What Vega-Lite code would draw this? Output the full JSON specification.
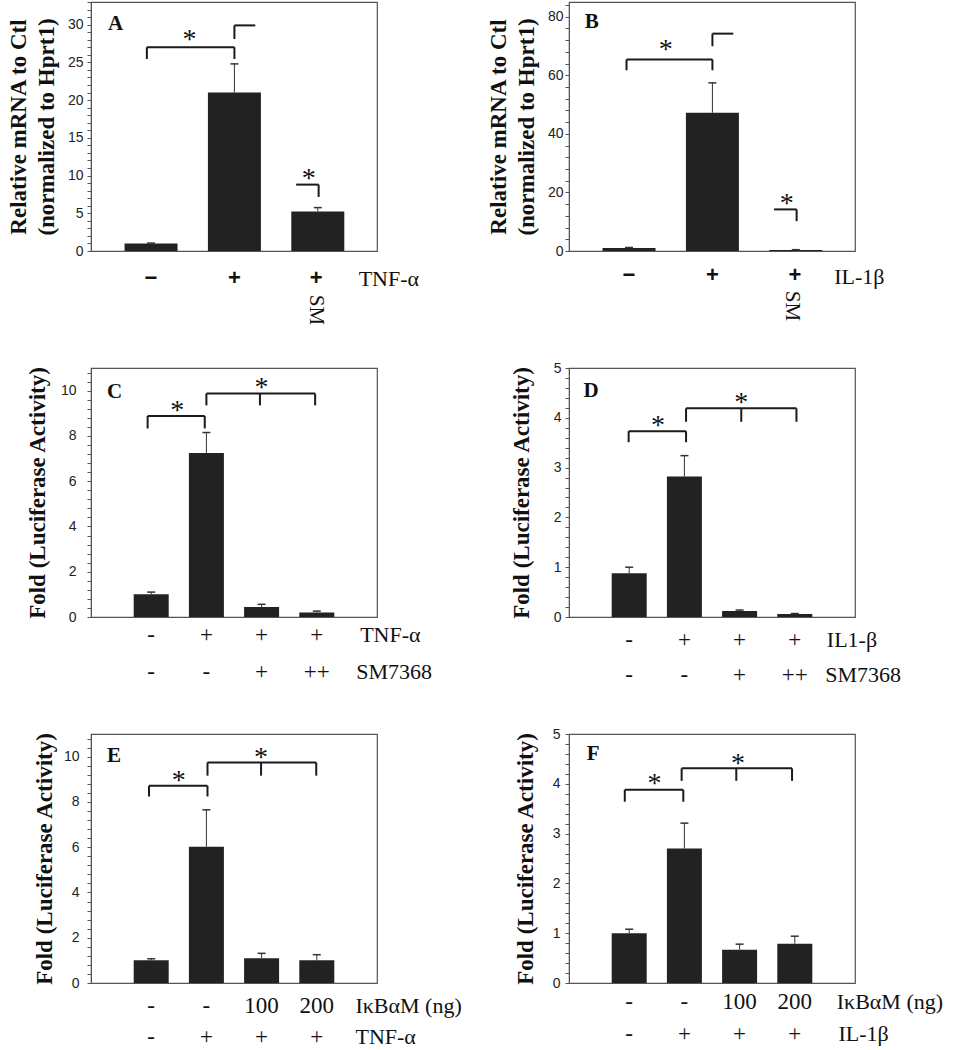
{
"$schema":"https://vega.github.io/schema/vega-lite/v6.json",
"padding":{"left":6,"top":0,"right":0,"bottom":0},
"bounds":"flush",
"columns":2,
"spacing":{"row":117,"column":192},
"config":{
 "view":{"stroke":"#555","strokeWidth":1.2},
 "axis":{"labelFont":"Liberation Sans","labelFontSize":14,"labelColor":"#222","domainColor":"#555","tickColor":"#555","tickSize":4,"titleFont":"Liberation Serif","titleFontWeight":"bold","titleFontSize":23,"titleColor":"#111","titleLineHeight":28,"grid":false,"labelOverlap":false,"labelFlush":false},
 "text":{"color":"#111"}
},
"datasets":{
 "A_bars":[{"x":1,"y":1.0,"hi":1.05},{"x":2,"y":21.0,"hi":24.8},{"x":3,"y":5.25,"hi":5.75}],
 "A_brk":[{"x":0.95,"x2":2.0,"y":27.0,"y2":27.0},{"x":0.95,"x2":0.95,"y":27.0,"y2":25.45},{"x":2.0,"x2":2.0,"y":27.0,"y2":25.45},{"x":2.0,"x2":2.0,"y":28.1,"y2":29.9},{"x":2.0,"x2":2.25,"y":29.9,"y2":29.9},{"x":2.74,"x2":3.01,"y":8.8,"y2":8.8},{"x":3.01,"x2":3.01,"y":8.8,"y2":7.17}],
 "A_star":[{"x":1.46,"y":28.65,"t":"*"},{"x":2.89,"y":10.27,"t":"*"}],
 "A_lab":[{"x":1,"y":0,"t":"−"},{"x":2,"y":0,"t":"+"},{"x":2.98,"y":0,"t":"+"}],
 "A_name":[{"x":3.49,"y":0,"t":"TNF-α"}],
 "A_sm":[{"x":2.98,"y":0,"t":"SM"}],
 "A_tag":[{"x":0.485,"y":30.1,"t":"A"}],
 "B_bars":[{"x":1,"y":1.0,"hi":1.2},{"x":2,"y":47.2,"hi":57.4},{"x":3,"y":0.3,"hi":0.45}],
 "B_brk":[{"x":0.97,"x2":2.0,"y":65.4,"y2":65.4},{"x":0.97,"x2":0.97,"y":65.4,"y2":61.7},{"x":2.0,"x2":2.0,"y":65.4,"y2":61.7},{"x":2.0,"x2":2.0,"y":69.9,"y2":74.2},{"x":2.0,"x2":2.25,"y":74.2,"y2":74.2},{"x":2.74,"x2":3.01,"y":14.2,"y2":14.2},{"x":3.01,"x2":3.01,"y":14.2,"y2":10.2}],
 "B_star":[{"x":1.44,"y":70.2,"t":"*"},{"x":2.89,"y":17.9,"t":"*"}],
 "B_lab":[{"x":1,"y":0,"t":"−"},{"x":2,"y":0,"t":"+"},{"x":2.99,"y":0,"t":"+"}],
 "B_name":[{"x":3.46,"y":0,"t":"IL-1β"}],
 "B_sm":[{"x":2.96,"y":0,"t":"SM"}],
 "B_tag":[{"x":0.47,"y":78.2,"t":"B"}],
 "C_bars":[{"x":1,"y":1.0,"hi":1.1},{"x":2,"y":7.24,"hi":8.15},{"x":3,"y":0.44,"hi":0.56},{"x":4,"y":0.2,"hi":0.26}],
 "C_brk":[{"x":0.935,"x2":1.97,"y":8.88,"y2":8.88},{"x":0.935,"x2":0.935,"y":8.88,"y2":8.33},{"x":1.97,"x2":1.97,"y":8.88,"y2":8.33},{"x":2.0,"x2":3.97,"y":9.87,"y2":9.87},{"x":2.0,"x2":2.0,"y":9.87,"y2":9.35},{"x":2.97,"x2":2.97,"y":9.87,"y2":9.35},{"x":3.97,"x2":3.97,"y":9.87,"y2":9.35}],
 "C_star":[{"x":1.47,"y":9.33,"t":"*"},{"x":3.0,"y":10.35,"t":"*"}],
 "C_lab":[{"x":1,"y":0,"row":1,"t":"-"},{"x":2,"y":0,"row":1,"t":"+"},{"x":3,"y":0,"row":1,"t":"+"},{"x":4,"y":0,"row":1,"t":"+"},{"x":1,"y":0,"row":2,"t":"-"},{"x":2,"y":0,"row":2,"t":"-"},{"x":3,"y":0,"row":2,"t":"+"},{"x":4,"y":0,"row":2,"t":"++"}],
 "C_name":[{"x":4.785,"y":0,"row":1,"t":"TNF-α"},{"x":4.715,"y":0,"row":2,"t":"SM7368"}],
 "C_tag":[{"x":0.2,"y":9.94,"t":"C"}],
 "D_bars":[{"x":1,"y":0.88,"hi":1.0},{"x":2,"y":2.82,"hi":3.24},{"x":3,"y":0.12,"hi":0.14},{"x":4,"y":0.06,"hi":0.07}],
 "D_brk":[{"x":0.99,"x2":2.03,"y":3.73,"y2":3.73},{"x":0.99,"x2":0.99,"y":3.73,"y2":3.51},{"x":2.03,"x2":2.03,"y":3.73,"y2":3.51},{"x":2.03,"x2":4.03,"y":4.19,"y2":4.19},{"x":2.03,"x2":2.03,"y":4.19,"y2":3.92},{"x":3.03,"x2":3.03,"y":4.19,"y2":3.92},{"x":4.03,"x2":4.03,"y":4.19,"y2":3.92}],
 "D_star":[{"x":1.52,"y":3.94,"t":"*"},{"x":3.03,"y":4.4,"t":"*"}],
 "D_lab":[{"x":1,"y":0,"row":1,"t":"-"},{"x":2,"y":0,"row":1,"t":"+"},{"x":3,"y":0,"row":1,"t":"+"},{"x":4,"y":0,"row":1,"t":"+"},{"x":1,"y":0,"row":2,"t":"-"},{"x":2,"y":0,"row":2,"t":"-"},{"x":3,"y":0,"row":2,"t":"+"},{"x":4,"y":0,"row":2,"t":"++"}],
 "D_name":[{"x":4.58,"y":0,"row":1,"t":"IL1-β"},{"x":4.55,"y":0,"row":2,"t":"SM7368"}],
 "D_tag":[{"x":0.17,"y":4.54,"t":"D"}],
 "E_bars":[{"x":1,"y":1.0,"hi":1.07},{"x":2,"y":6.02,"hi":7.65},{"x":3,"y":1.09,"hi":1.31},{"x":4,"y":1.0,"hi":1.25}],
 "E_brk":[{"x":0.96,"x2":2.02,"y":8.71,"y2":8.71},{"x":0.96,"x2":0.96,"y":8.71,"y2":8.24},{"x":2.02,"x2":2.02,"y":8.71,"y2":8.24},{"x":2.02,"x2":3.99,"y":9.74,"y2":9.74},{"x":2.02,"x2":2.02,"y":9.74,"y2":9.16},{"x":2.99,"x2":2.99,"y":9.74,"y2":9.16},{"x":3.99,"x2":3.99,"y":9.74,"y2":9.16}],
 "E_star":[{"x":1.5,"y":9.16,"t":"*"},{"x":2.99,"y":10.15,"t":"*"}],
 "E_lab":[{"x":1,"y":0,"row":1,"t":"-"},{"x":2,"y":0,"row":1,"t":"-"},{"x":3,"y":0,"row":1,"t":"100"},{"x":4,"y":0,"row":1,"t":"200"},{"x":1,"y":0,"row":2,"t":"-"},{"x":2,"y":0,"row":2,"t":"+"},{"x":3,"y":0,"row":2,"t":"+"},{"x":4,"y":0,"row":2,"t":"+"}],
 "E_name":[{"x":4.7,"y":0,"row":1,"t":"IκBαM (ng)"},{"x":4.7,"y":0,"row":2,"t":"TNF-α"}],
 "E_tag":[{"x":0.2,"y":10.03,"t":"E"}],
 "F_bars":[{"x":1,"y":1.0,"hi":1.08},{"x":2,"y":2.7,"hi":3.21},{"x":3,"y":0.67,"hi":0.78},{"x":4,"y":0.79,"hi":0.94}],
 "F_brk":[{"x":0.92,"x2":1.98,"y":3.88,"y2":3.88},{"x":0.92,"x2":0.92,"y":3.88,"y2":3.64},{"x":1.98,"x2":1.98,"y":3.88,"y2":3.64},{"x":1.95,"x2":3.95,"y":4.31,"y2":4.31},{"x":1.95,"x2":1.95,"y":4.31,"y2":4.06},{"x":2.94,"x2":2.94,"y":4.31,"y2":4.06},{"x":3.95,"x2":3.95,"y":4.31,"y2":4.06}],
 "F_star":[{"x":1.46,"y":4.1,"t":"*"},{"x":2.97,"y":4.5,"t":"*"}],
 "F_lab":[{"x":1,"y":0,"row":1,"t":"-"},{"x":2,"y":0,"row":1,"t":"-"},{"x":3,"y":0,"row":1,"t":"100"},{"x":4,"y":0,"row":1,"t":"200"},{"x":1,"y":0,"row":2,"t":"-"},{"x":2,"y":0,"row":2,"t":"+"},{"x":3,"y":0,"row":2,"t":"+"},{"x":4,"y":0,"row":2,"t":"+"}],
 "F_name":[{"x":4.76,"y":0,"row":1,"t":"IκBαM (ng)"},{"x":4.79,"y":0,"row":2,"t":"IL-1β"}],
 "F_tag":[{"x":0.23,"y":4.6,"t":"F"}]
},
"concat":[
 {"width":286,"height":249,
  "encoding":{
   "x":{"field":"x","type":"quantitative","scale":{"domain":[0.34,3.65],"nice":false,"zero":false},"axis":null},
   "y":{"field":"y","type":"quantitative","scale":{"domain":[0,33],"nice":false,"zero":false},"axis":{"title":["Relative mRNA to Ctl","(normalized to Hprt1)"],"titleFont":"Liberation Serif","titleFontWeight":"bold","titleFontSize":23,"labelFont":"Liberation Sans","format":"~g","values":[0,1,2,3,4,5,6,7,8,9,10,11,12,13,14,15,16,17,18,19,20,21,22,23,24,25,26,27,28,29,30,31,32,33],"labelExpr":"datum.value % 5 == 0 ? datum.label : ''","labelFontSize":{"condition":{"test":"datum.value % 5 == 0","value":14},"value":0},"labelPadding":4,"titlePadding":9}}
  },
  "layer":[
   {"data":{"name":"A_bars"},"mark":{"type":"bar","orient":"vertical","width":53,"color":"#222"}},
   {"data":{"name":"A_bars"},"mark":{"type":"rule","color":"#333","strokeWidth":1},"encoding":{"y2":{"field":"hi"}}},
   {"data":{"name":"A_bars"},"mark":{"type":"point","shape":"stroke","size":64,"color":"#333","strokeWidth":1.5,"opacity":1},"encoding":{"y":{"field":"hi","type":"quantitative"}}},
   {"data":{"name":"A_brk"},"mark":{"type":"rule","color":"#1a1a1a","strokeWidth":2},"encoding":{"x2":{"field":"x2"},"y2":{"field":"y2"}}},
   {"data":{"name":"A_star"},"mark":{"type":"text","font":"Liberation Serif","fontSize":28,"baseline":"middle","dy":5},"encoding":{"text":{"field":"t"}}},
   {"data":{"name":"A_lab"},"mark":{"type":"text","font":"Liberation Sans","fontWeight":"bold","fontSize":22,"baseline":"middle","dy":27},"encoding":{"text":{"field":"t"}}},
   {"data":{"name":"A_name"},"mark":{"type":"text","font":"Liberation Serif","fontSize":22,"align":"left","baseline":"middle","dy":28},"encoding":{"text":{"field":"t"}}},
   {"data":{"name":"A_sm"},"mark":{"type":"text","font":"Liberation Serif","fontSize":21,"angle":90,"align":"center","baseline":"middle","dx":59},"encoding":{"text":{"field":"t"}}},
   {"data":{"name":"A_tag"},"mark":{"type":"text","font":"Liberation Serif","fontWeight":"bold","fontSize":21,"align":"left","baseline":"middle"},"encoding":{"text":{"field":"t"}}}
  ]
 },
 {"width":286,"height":249,
  "encoding":{
   "x":{"field":"x","type":"quantitative","scale":{"domain":[0.34,3.65],"nice":false,"zero":false},"axis":null},
   "y":{"field":"y","type":"quantitative","scale":{"domain":[0,85],"nice":false,"zero":false},"axis":{"title":["Relative mRNA to Ctl","(normalized to Hprt1)"],"titleFont":"Liberation Serif","titleFontWeight":"bold","titleFontSize":23,"labelFont":"Liberation Sans","format":"~g","values":[0,4,8,12,16,20,24,28,32,36,40,44,48,52,56,60,64,68,72,76,80,84],"labelExpr":"datum.value % 20 == 0 ? datum.label : ''","labelFontSize":{"condition":{"test":"datum.value % 20 == 0","value":14},"value":0},"labelPadding":2,"titlePadding":9}}
  },
  "layer":[
   {"data":{"name":"B_bars"},"mark":{"type":"bar","orient":"vertical","width":53,"color":"#222"}},
   {"data":{"name":"B_bars"},"mark":{"type":"rule","color":"#333","strokeWidth":1},"encoding":{"y2":{"field":"hi"}}},
   {"data":{"name":"B_bars"},"mark":{"type":"point","shape":"stroke","size":64,"color":"#333","strokeWidth":1.5,"opacity":1},"encoding":{"y":{"field":"hi","type":"quantitative"}}},
   {"data":{"name":"B_brk"},"mark":{"type":"rule","color":"#1a1a1a","strokeWidth":2},"encoding":{"x2":{"field":"x2"},"y2":{"field":"y2"}}},
   {"data":{"name":"B_star"},"mark":{"type":"text","font":"Liberation Serif","fontSize":28,"baseline":"middle","dy":5},"encoding":{"text":{"field":"t"}}},
   {"data":{"name":"B_lab"},"mark":{"type":"text","font":"Liberation Sans","fontWeight":"bold","fontSize":22,"baseline":"middle","dy":24},"encoding":{"text":{"field":"t"}}},
   {"data":{"name":"B_name"},"mark":{"type":"text","font":"Liberation Serif","fontSize":22,"align":"left","baseline":"middle","dy":26},"encoding":{"text":{"field":"t"}}},
   {"data":{"name":"B_sm"},"mark":{"type":"text","font":"Liberation Serif","fontSize":21,"angle":90,"align":"center","baseline":"middle","dx":55},"encoding":{"text":{"field":"t"}}},
   {"data":{"name":"B_tag"},"mark":{"type":"text","font":"Liberation Serif","fontWeight":"bold","fontSize":21,"align":"left","baseline":"middle"},"encoding":{"text":{"field":"t"}}}
  ]
 },
 {"width":286,"height":249,
  "encoding":{
   "x":{"field":"x","type":"quantitative","scale":{"domain":[0,5],"nice":false,"zero":false},"axis":null},
   "y":{"field":"y","type":"quantitative","scale":{"domain":[0,11],"nice":false,"zero":false},"axis":{"title":"Fold (Luciferase Activity)","titleFont":"Liberation Serif","titleFontWeight":"bold","titleFontSize":23,"labelFont":"Liberation Sans","format":"~g","values":[0,0.4,0.8,1.2,1.6,2,2.4,2.8,3.2,3.6,4,4.4,4.8,5.2,5.6,6,6.4,6.8,7.2,7.6,8,8.4,8.8,9.2,9.6,10,10.4,10.8],"labelExpr":"abs(datum.value/2 - round(datum.value/2)) < 0.01 ? datum.label : ''","labelFontSize":{"condition":{"test":"abs(datum.value/2 - round(datum.value/2)) < 0.01","value":14},"value":0},"labelPadding":11,"titlePadding":11}}
  },
  "layer":[
   {"data":{"name":"C_bars"},"mark":{"type":"bar","orient":"vertical","width":35,"color":"#222"}},
   {"data":{"name":"C_bars"},"mark":{"type":"rule","color":"#333","strokeWidth":1},"encoding":{"y2":{"field":"hi"}}},
   {"data":{"name":"C_bars"},"mark":{"type":"point","shape":"stroke","size":64,"color":"#333","strokeWidth":1.5,"opacity":1},"encoding":{"y":{"field":"hi","type":"quantitative"}}},
   {"data":{"name":"C_brk"},"mark":{"type":"rule","color":"#1a1a1a","strokeWidth":2},"encoding":{"x2":{"field":"x2"},"y2":{"field":"y2"}}},
   {"data":{"name":"C_star"},"mark":{"type":"text","font":"Liberation Serif","fontSize":28,"baseline":"middle","dy":5},"encoding":{"text":{"field":"t"}}},
   {"data":{"name":"C_lab"},"transform":[{"filter":"datum.row == 1"}],"mark":{"type":"text","font":"Liberation Serif","fontSize":23,"baseline":"middle","dy":18},"encoding":{"text":{"field":"t"}}},
   {"data":{"name":"C_lab"},"transform":[{"filter":"datum.row == 2"}],"mark":{"type":"text","font":"Liberation Serif","fontSize":23,"baseline":"middle","dy":55},"encoding":{"text":{"field":"t"}}},
   {"data":{"name":"C_name"},"transform":[{"filter":"datum.row == 1"}],"mark":{"type":"text","font":"Liberation Serif","fontSize":22,"align":"left","baseline":"middle","dy":18},"encoding":{"text":{"field":"t"}}},
   {"data":{"name":"C_name"},"transform":[{"filter":"datum.row == 2"}],"mark":{"type":"text","font":"Liberation Serif","fontSize":22,"align":"left","baseline":"middle","dy":55},"encoding":{"text":{"field":"t"}}},
   {"data":{"name":"C_tag"},"mark":{"type":"text","font":"Liberation Serif","fontWeight":"bold","fontSize":21,"align":"left","baseline":"middle"},"encoding":{"text":{"field":"t"}}}
  ]
 },
 {"width":286,"height":249,
  "encoding":{
   "x":{"field":"x","type":"quantitative","scale":{"domain":[0,5],"nice":false,"zero":false},"axis":null},
   "y":{"field":"y","type":"quantitative","scale":{"domain":[0,5],"nice":false,"zero":false},"axis":{"title":"Fold (Luciferase Activity)","titleFont":"Liberation Serif","titleFontWeight":"bold","titleFontSize":23,"labelFont":"Liberation Sans","format":"~g","values":[0,0.2,0.4,0.6,0.8,1,1.2,1.4,1.6,1.8,2,2.2,2.4,2.6,2.8,3,3.2,3.4,3.6,3.8,4,4.2,4.4,4.6,4.8,5],"labelExpr":"abs(datum.value - round(datum.value)) < 0.01 ? datum.label : ''","labelFontSize":{"condition":{"test":"abs(datum.value - round(datum.value)) < 0.01","value":14},"value":0},"labelPadding":4,"titlePadding":20}}
  },
  "layer":[
   {"data":{"name":"D_bars"},"mark":{"type":"bar","orient":"vertical","width":35,"color":"#222"}},
   {"data":{"name":"D_bars"},"mark":{"type":"rule","color":"#333","strokeWidth":1},"encoding":{"y2":{"field":"hi"}}},
   {"data":{"name":"D_bars"},"mark":{"type":"point","shape":"stroke","size":64,"color":"#333","strokeWidth":1.5,"opacity":1},"encoding":{"y":{"field":"hi","type":"quantitative"}}},
   {"data":{"name":"D_brk"},"mark":{"type":"rule","color":"#1a1a1a","strokeWidth":2},"encoding":{"x2":{"field":"x2"},"y2":{"field":"y2"}}},
   {"data":{"name":"D_star"},"mark":{"type":"text","font":"Liberation Serif","fontSize":28,"baseline":"middle","dy":5},"encoding":{"text":{"field":"t"}}},
   {"data":{"name":"D_lab"},"transform":[{"filter":"datum.row == 1"}],"mark":{"type":"text","font":"Liberation Serif","fontSize":23,"baseline":"middle","dy":23},"encoding":{"text":{"field":"t"}}},
   {"data":{"name":"D_lab"},"transform":[{"filter":"datum.row == 2"}],"mark":{"type":"text","font":"Liberation Serif","fontSize":23,"baseline":"middle","dy":58},"encoding":{"text":{"field":"t"}}},
   {"data":{"name":"D_name"},"transform":[{"filter":"datum.row == 1"}],"mark":{"type":"text","font":"Liberation Serif","fontSize":22,"align":"left","baseline":"middle","dy":23},"encoding":{"text":{"field":"t"}}},
   {"data":{"name":"D_name"},"transform":[{"filter":"datum.row == 2"}],"mark":{"type":"text","font":"Liberation Serif","fontSize":22,"align":"left","baseline":"middle","dy":58},"encoding":{"text":{"field":"t"}}},
   {"data":{"name":"D_tag"},"mark":{"type":"text","font":"Liberation Serif","fontWeight":"bold","fontSize":21,"align":"left","baseline":"middle"},"encoding":{"text":{"field":"t"}}}
  ]
 },
 {"width":286,"height":249,
  "encoding":{
   "x":{"field":"x","type":"quantitative","scale":{"domain":[0,5],"nice":false,"zero":false},"axis":null},
   "y":{"field":"y","type":"quantitative","scale":{"domain":[0,11],"nice":false,"zero":false},"axis":{"title":"Fold (Luciferase Activity)","titleFont":"Liberation Serif","titleFontWeight":"bold","titleFontSize":23,"labelFont":"Liberation Sans","format":"~g","values":[0,0.4,0.8,1.2,1.6,2,2.4,2.8,3.2,3.6,4,4.4,4.8,5.2,5.6,6,6.4,6.8,7.2,7.6,8,8.4,8.8,9.2,9.6,10,10.4,10.8],"labelExpr":"abs(datum.value/2 - round(datum.value/2)) < 0.01 ? datum.label : ''","labelFontSize":{"condition":{"test":"abs(datum.value/2 - round(datum.value/2)) < 0.01","value":14},"value":0},"labelPadding":8,"titlePadding":7}}
  },
  "layer":[
   {"data":{"name":"E_bars"},"mark":{"type":"bar","orient":"vertical","width":35,"color":"#222"}},
   {"data":{"name":"E_bars"},"mark":{"type":"rule","color":"#333","strokeWidth":1},"encoding":{"y2":{"field":"hi"}}},
   {"data":{"name":"E_bars"},"mark":{"type":"point","shape":"stroke","size":64,"color":"#333","strokeWidth":1.5,"opacity":1},"encoding":{"y":{"field":"hi","type":"quantitative"}}},
   {"data":{"name":"E_brk"},"mark":{"type":"rule","color":"#1a1a1a","strokeWidth":2},"encoding":{"x2":{"field":"x2"},"y2":{"field":"y2"}}},
   {"data":{"name":"E_star"},"mark":{"type":"text","font":"Liberation Serif","fontSize":28,"baseline":"middle","dy":5},"encoding":{"text":{"field":"t"}}},
   {"data":{"name":"E_lab"},"transform":[{"filter":"datum.row == 1"}],"mark":{"type":"text","font":"Liberation Serif","fontSize":23,"baseline":"middle","dy":23},"encoding":{"text":{"field":"t"}}},
   {"data":{"name":"E_lab"},"transform":[{"filter":"datum.row == 2"}],"mark":{"type":"text","font":"Liberation Serif","fontSize":23,"baseline":"middle","dy":54},"encoding":{"text":{"field":"t"}}},
   {"data":{"name":"E_name"},"transform":[{"filter":"datum.row == 1"}],"mark":{"type":"text","font":"Liberation Serif","fontSize":22,"align":"left","baseline":"middle","dy":23},"encoding":{"text":{"field":"t"}}},
   {"data":{"name":"E_name"},"transform":[{"filter":"datum.row == 2"}],"mark":{"type":"text","font":"Liberation Serif","fontSize":22,"align":"left","baseline":"middle","dy":54},"encoding":{"text":{"field":"t"}}},
   {"data":{"name":"E_tag"},"mark":{"type":"text","font":"Liberation Serif","fontWeight":"bold","fontSize":21,"align":"left","baseline":"middle"},"encoding":{"text":{"field":"t"}}}
  ]
 },
 {"width":286,"height":249,
  "encoding":{
   "x":{"field":"x","type":"quantitative","scale":{"domain":[0,5],"nice":false,"zero":false},"axis":null},
   "y":{"field":"y","type":"quantitative","scale":{"domain":[0,5],"nice":false,"zero":false},"axis":{"title":"Fold (Luciferase Activity)","titleFont":"Liberation Serif","titleFontWeight":"bold","titleFontSize":23,"labelFont":"Liberation Sans","format":"~g","values":[0,0.2,0.4,0.6,0.8,1,1.2,1.4,1.6,1.8,2,2.2,2.4,2.6,2.8,3,3.2,3.4,3.6,3.8,4,4.2,4.4,4.6,4.8,5],"labelExpr":"abs(datum.value - round(datum.value)) < 0.01 ? datum.label : ''","labelFontSize":{"condition":{"test":"abs(datum.value - round(datum.value)) < 0.01","value":14},"value":0},"labelPadding":5,"titlePadding":15}}
  },
  "layer":[
   {"data":{"name":"F_bars"},"mark":{"type":"bar","orient":"vertical","width":35,"color":"#222"}},
   {"data":{"name":"F_bars"},"mark":{"type":"rule","color":"#333","strokeWidth":1},"encoding":{"y2":{"field":"hi"}}},
   {"data":{"name":"F_bars"},"mark":{"type":"point","shape":"stroke","size":64,"color":"#333","strokeWidth":1.5,"opacity":1},"encoding":{"y":{"field":"hi","type":"quantitative"}}},
   {"data":{"name":"F_brk"},"mark":{"type":"rule","color":"#1a1a1a","strokeWidth":2},"encoding":{"x2":{"field":"x2"},"y2":{"field":"y2"}}},
   {"data":{"name":"F_star"},"mark":{"type":"text","font":"Liberation Serif","fontSize":28,"baseline":"middle","dy":5},"encoding":{"text":{"field":"t"}}},
   {"data":{"name":"F_lab"},"transform":[{"filter":"datum.row == 1"}],"mark":{"type":"text","font":"Liberation Serif","fontSize":23,"baseline":"middle","dy":19},"encoding":{"text":{"field":"t"}}},
   {"data":{"name":"F_lab"},"transform":[{"filter":"datum.row == 2"}],"mark":{"type":"text","font":"Liberation Serif","fontSize":23,"baseline":"middle","dy":51},"encoding":{"text":{"field":"t"}}},
   {"data":{"name":"F_name"},"transform":[{"filter":"datum.row == 1"}],"mark":{"type":"text","font":"Liberation Serif","fontSize":22,"align":"left","baseline":"middle","dy":19},"encoding":{"text":{"field":"t"}}},
   {"data":{"name":"F_name"},"transform":[{"filter":"datum.row == 2"}],"mark":{"type":"text","font":"Liberation Serif","fontSize":22,"align":"left","baseline":"middle","dy":51},"encoding":{"text":{"field":"t"}}},
   {"data":{"name":"F_tag"},"mark":{"type":"text","font":"Liberation Serif","fontWeight":"bold","fontSize":21,"align":"left","baseline":"middle"},"encoding":{"text":{"field":"t"}}}
  ]
 }
]
}
